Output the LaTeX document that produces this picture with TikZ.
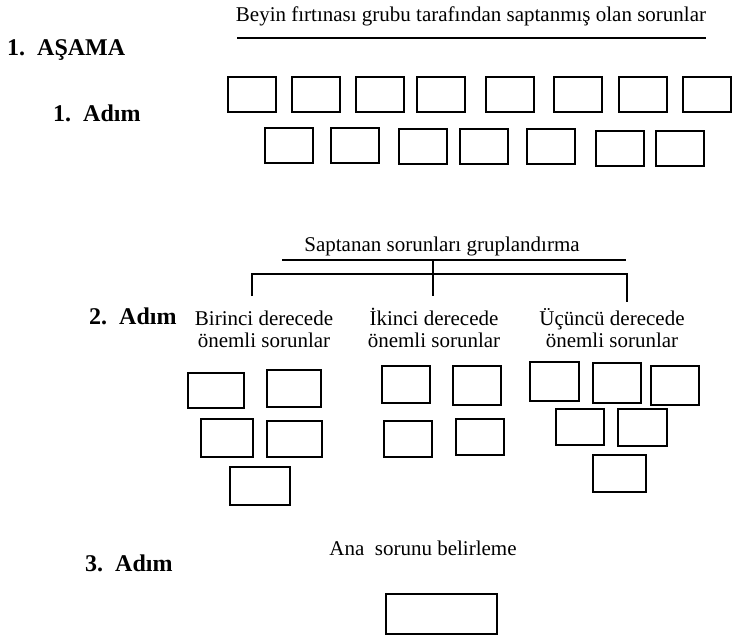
\documentclass[tikz,border=0pt]{standalone}
\usepackage{fontspec}
\setmainfont{Liberation Serif}
\usetikzlibrary{positioning}

\tikzset{
  kutu/.style={draw, line width=2pt, inner sep=0pt, minimum width=48pt, minimum height=35pt},
  yazi/.style={font=\fontsize{21}{20}\selectfont, inner sep=0pt, anchor=base},
  grup/.style={font=\fontsize{21}{21.5}\selectfont, inner sep=0pt, anchor=north, align=center},
  adim/.style={font=\bfseries\fontsize{24}{26}\selectfont, inner sep=0pt, anchor=base west},
  cizgi/.style={line width=1.5pt}
}
\newcommand{\ustboy}{\vphantom{İÜ}}

\begin{document}
\begin{tikzpicture}[x=1pt,y=-1pt]
\useasboundingbox (0,0) rectangle (735,637);
% 1. asama
\node[adim] (asama) at (7,55) {1.\ \ AŞAMA};
\node[yazi] (beyin) at (471,21) {Beyin fırtınası grubu tarafından saptanmış olan sorunlar};
\coordinate (beyinSol) at (237,38);
\coordinate (beyinSag) at (706,38);
\draw[cizgi] (beyinSol) -- (beyinSag);
\node[adim] (adim1) at (53,121) {1.\ \ Adım};
\foreach \x [count=\i] in {252,316,380,441,510,578,643,707}
  \node[kutu] (ust\i) at (\x,94) {};
\foreach \x/\y [count=\i] in {289/145,355/145,423/146,484/146,551/146,620/148,680/148}
  \node[kutu] (alt\i) at (\x,\y) {};
% 2. adim
\node[yazi] (grupla) at (442,251) {Saptanan sorunları gruplandırma};
\coordinate (gruplaSol) at (282,260);
\coordinate (gruplaSag) at (626,260);
\draw[cizgi] (gruplaSol) -- (gruplaSag);
\coordinate (kolOrta) at (433,260);
\coordinate (ucBir) at (252,296);
\coordinate (ucIki) at (433,296);
\coordinate (ucUc) at (627,302);
\draw[cizgi] (ucBir) |- (ucUc |- 0,274) -- (ucUc);
\draw[cizgi] (kolOrta) -- (ucIki);
\node[adim] (adim2) at (89,324) {2.\ \ Adım};
\node[grup] (birinci) at (264,308) {\ustboy Birinci derecede\\önemli sorunlar};
\node[grup] (ikinci) at (434,308) {\ustboy İkinci derecede\\önemli sorunlar};
\node[grup] (ucuncu) at (612,308) {\ustboy Üçüncü derecede\\önemli sorunlar};
\foreach \x/\y/\w/\h [count=\i] in {216/390/56/35,294/388/54/37,227/438/52/38,294/439/55/36,260/486/60/38}
  \node[kutu, minimum width=\w pt, minimum height=\h pt] (bir\i) at (\x,\y) {};
\foreach \x/\y/\w/\h [count=\i] in {406/384/48/37,477/385/48/39,408/439/48/36,480/437/48/36}
  \node[kutu, minimum width=\w pt, minimum height=\h pt] (iki\i) at (\x,\y) {};
\foreach \x/\y/\w/\h [count=\i] in {554/381/49/39,617/383/48/40,675/385/48/39,580/427/48/36,642/427/49/37,619/473/53/37}
  \node[kutu, minimum width=\w pt, minimum height=\h pt] (uc\i) at (\x,\y) {};
% 3. adim
\node[adim] (adim3) at (85,571) {3.\ \ Adım};
\node[yazi] (ana) at (423,555) {Ana\ \ sorunu belirleme};
\node[kutu, minimum width=111pt, minimum height=40pt] (anaKutu) at (441,614) {};
\end{tikzpicture}
\end{document}
